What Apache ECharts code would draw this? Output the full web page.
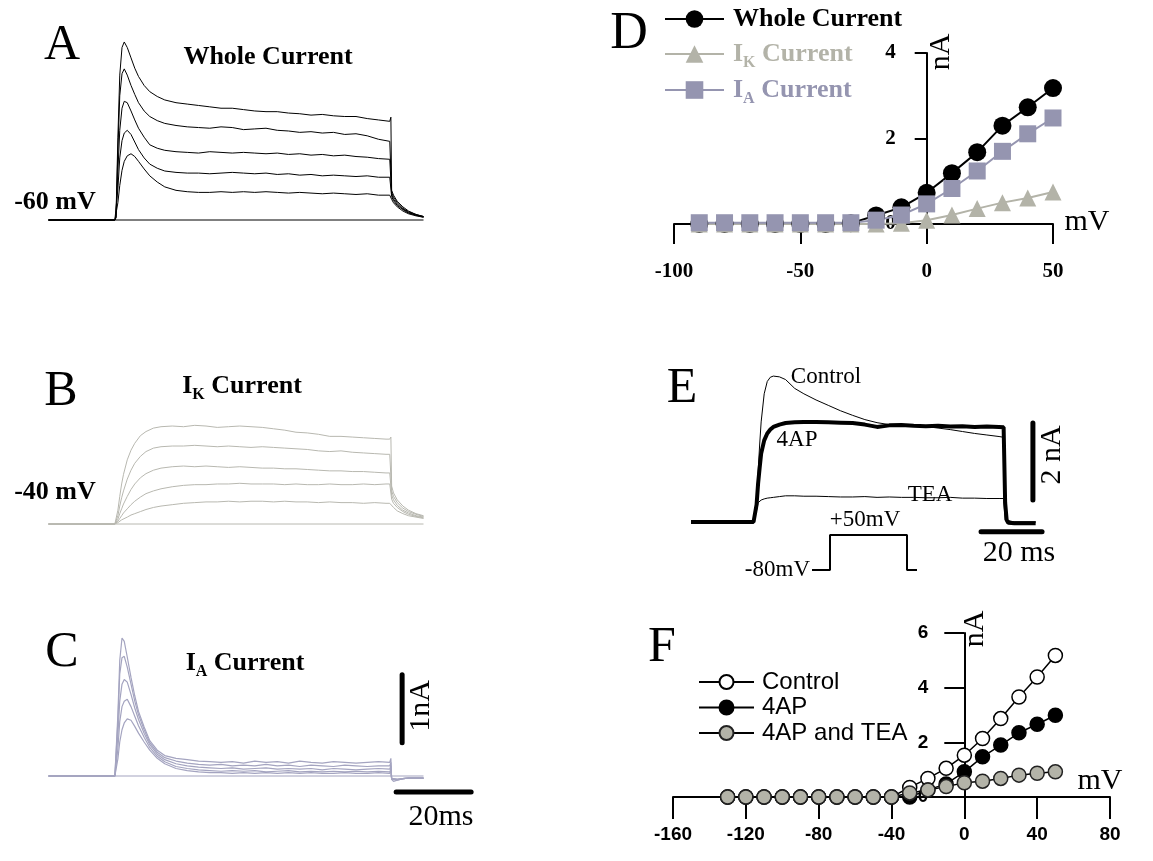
<!DOCTYPE html>
<html>
<head>
<meta charset="utf-8">
<script src="https://cdn.jsdelivr.net/npm/echarts/dist/echarts.min.js"></script>
<style>
html, body { margin: 0; padding: 0; background: #fff; }
#main { width: 1153px; height: 861px; }
</style>
</head>
<body>
<div id="main"></div>
<script>
// ---- panel A / C traces (time in ms from step onset, current in nA)
var timeAC = [-18, -0.3, 0, 0.5, 1, 1.6, 2.2, 3, 4, 5, 6, 7.5, 9, 11, 13, 16, 19, 22, 25, 28, 31, 34, 37, 40, 43, 46, 49, 52, 55, 58, 61, 64, 67, 70, 73, 73.3, 73.5, 74, 75, 76.5, 78, 80, 82];
var wholeA1 = [0, 0, 0.05, 1.2, 2.1, 2.5, 2.58, 2.5, 2.35, 2.2, 2.08, 1.95, 1.86, 1.79, 1.74, 1.70, 1.68, 1.66, 1.64, 1.62, 1.62, 1.60, 1.58, 1.57, 1.57, 1.55, 1.54, 1.52, 1.53, 1.51, 1.50, 1.50, 1.47, 1.45, 1.43, 1.49, 0.43, 0.36, 0.27, 0.19, 0.13, 0.08, 0.05];
var wholeA2 = [0, 0, 0.04, 1.0, 1.8, 2.12, 2.19, 2.1, 1.95, 1.82, 1.70, 1.58, 1.50, 1.44, 1.40, 1.37, 1.35, 1.34, 1.33, 1.35, 1.34, 1.31, 1.32, 1.33, 1.30, 1.29, 1.27, 1.28, 1.26, 1.27, 1.24, 1.25, 1.22, 1.17, 1.14, 1.14, 0.40, 0.33, 0.25, 0.17, 0.12, 0.08, 0.05];
var wholeA3 = [0, 0, 0.03, 0.7, 1.3, 1.62, 1.72, 1.70, 1.58, 1.45, 1.33, 1.20, 1.09, 1.04, 1.01, 0.99, 0.98, 0.97, 0.99, 0.98, 0.97, 0.98, 0.97, 0.96, 0.97, 0.95, 0.96, 0.94, 0.95, 0.93, 0.94, 0.92, 0.91, 0.89, 0.88, 0.88, 0.37, 0.30, 0.23, 0.16, 0.11, 0.07, 0.05];
var wholeA4 = [0, 0, 0.02, 0.45, 0.9, 1.15, 1.26, 1.30, 1.24, 1.13, 1.02, 0.90, 0.81, 0.75, 0.71, 0.69, 0.68, 0.68, 0.67, 0.68, 0.69, 0.68, 0.67, 0.68, 0.66, 0.67, 0.65, 0.66, 0.64, 0.65, 0.64, 0.63, 0.64, 0.62, 0.62, 0.62, 0.34, 0.28, 0.21, 0.15, 0.10, 0.07, 0.04];
var wholeA5 = [0, 0, 0.02, 0.25, 0.5, 0.72, 0.85, 0.93, 0.96, 0.92, 0.85, 0.74, 0.64, 0.55, 0.48, 0.43, 0.41, 0.40, 0.40, 0.41, 0.40, 0.41, 0.40, 0.41, 0.40, 0.39, 0.40, 0.39, 0.38, 0.39, 0.38, 0.37, 0.38, 0.36, 0.36, 0.36, 0.30, 0.25, 0.19, 0.13, 0.09, 0.06, 0.04];

var iaC1 = [0, 0, 0, 0.9, 1.7, 2.03, 1.98, 1.75, 1.45, 1.18, 0.95, 0.72, 0.52, 0.38, 0.30, 0.26, 0.24, 0.22, 0.21, 0.20, 0.21, 0.19, 0.22, 0.20, 0.21, 0.19, 0.22, 0.20, 0.19, 0.21, 0.20, 0.19, 0.20, 0.21, 0.20, 0.26, -0.05, -0.08, -0.06, -0.04, -0.03, -0.03, -0.03];
var iaC2 = [0, 0, 0, 0.8, 1.5, 1.74, 1.76, 1.6, 1.35, 1.10, 0.90, 0.68, 0.49, 0.35, 0.27, 0.22, 0.19, 0.17, 0.16, 0.17, 0.15, 0.16, 0.15, 0.17, 0.15, 0.16, 0.14, 0.16, 0.15, 0.14, 0.16, 0.15, 0.14, 0.15, 0.15, 0.20, -0.05, -0.07, -0.06, -0.04, -0.03, -0.03, -0.03];
var iaC3 = [0, 0, 0, 0.6, 1.1, 1.35, 1.42, 1.38, 1.20, 1.0, 0.83, 0.63, 0.46, 0.32, 0.24, 0.18, 0.15, 0.13, 0.12, 0.11, 0.12, 0.10, 0.11, 0.12, 0.10, 0.11, 0.10, 0.11, 0.09, 0.11, 0.10, 0.09, 0.10, 0.11, 0.10, 0.15, -0.04, -0.06, -0.05, -0.04, -0.03, -0.03, -0.03];
var iaC4 = [0, 0, 0, 0.4, 0.8, 1.02, 1.10, 1.13, 1.02, 0.88, 0.74, 0.57, 0.42, 0.29, 0.21, 0.14, 0.11, 0.09, 0.08, 0.07, 0.08, 0.07, 0.08, 0.06, 0.07, 0.08, 0.06, 0.07, 0.06, 0.07, 0.06, 0.07, 0.06, 0.07, 0.06, 0.10, -0.04, -0.05, -0.05, -0.04, -0.03, -0.03, -0.03];
var iaC5 = [0, 0, 0, 0.25, 0.5, 0.68, 0.78, 0.84, 0.82, 0.73, 0.63, 0.50, 0.38, 0.26, 0.18, 0.11, 0.08, 0.06, 0.05, 0.05, 0.04, 0.05, 0.04, 0.05, 0.04, 0.05, 0.04, 0.05, 0.04, 0.04, 0.05, 0.04, 0.04, 0.05, 0.04, 0.08, -0.04, -0.05, -0.05, -0.04, -0.03, -0.03, -0.03];

// flat trace at the holding step
var flatTime = [-18, 82];
var flatVals = [0, 0];

// ---- panel B traces
var timeB = [-18, -0.3, 0, 0.5, 1, 1.5, 2, 3, 4, 5, 6.5, 8, 10, 12, 15, 18, 21, 24, 27, 30, 33, 36, 39, 42, 45, 48, 51, 54, 57, 60, 63, 66, 69, 72, 73, 73.3, 73.5, 74, 75, 76.5, 78, 80, 82];
var ikB1 = [0, 0, 0, 0.2, 0.4, 0.58, 0.72, 0.93, 1.07, 1.17, 1.28, 1.34, 1.39, 1.41, 1.42, 1.41, 1.43, 1.42, 1.40, 1.41, 1.42, 1.41, 1.40, 1.38, 1.36, 1.33, 1.32, 1.30, 1.27, 1.27, 1.26, 1.25, 1.24, 1.23, 1.23, 1.26, 0.55, 0.45, 0.35, 0.26, 0.20, 0.15, 0.12];
var ikB2 = [0, 0, 0, 0.12, 0.26, 0.38, 0.48, 0.65, 0.78, 0.88, 0.98, 1.05, 1.10, 1.12, 1.13, 1.13, 1.14, 1.13, 1.12, 1.13, 1.12, 1.11, 1.12, 1.11, 1.10, 1.09, 1.08, 1.06, 1.05, 1.06, 1.04, 1.03, 1.02, 1.01, 1.01, 1.01, 0.48, 0.40, 0.31, 0.23, 0.18, 0.14, 0.11];
var ikB3 = [0, 0, 0, 0.07, 0.15, 0.22, 0.29, 0.40, 0.50, 0.58, 0.67, 0.73, 0.78, 0.81, 0.83, 0.84, 0.83, 0.84, 0.83, 0.82, 0.83, 0.82, 0.81, 0.81, 0.80, 0.80, 0.79, 0.78, 0.77, 0.77, 0.76, 0.76, 0.75, 0.74, 0.74, 0.74, 0.42, 0.35, 0.27, 0.20, 0.16, 0.12, 0.10];
var ikB4 = [0, 0, 0, 0.04, 0.08, 0.12, 0.16, 0.22, 0.28, 0.33, 0.39, 0.44, 0.48, 0.51, 0.54, 0.56, 0.57, 0.57, 0.58, 0.58, 0.59, 0.58, 0.58, 0.58, 0.57, 0.58, 0.57, 0.57, 0.58, 0.57, 0.57, 0.58, 0.57, 0.58, 0.58, 0.58, 0.36, 0.30, 0.24, 0.18, 0.14, 0.11, 0.09];
var ikB5 = [0, 0, 0, 0.02, 0.04, 0.06, 0.07, 0.10, 0.13, 0.15, 0.18, 0.21, 0.24, 0.26, 0.28, 0.30, 0.31, 0.32, 0.32, 0.33, 0.32, 0.33, 0.33, 0.32, 0.33, 0.32, 0.32, 0.31, 0.32, 0.31, 0.31, 0.30, 0.31, 0.30, 0.30, 0.30, 0.28, 0.24, 0.19, 0.15, 0.12, 0.10, 0.08];

// ---- panel E traces (+50 mV step)
var timeE = [-21, -0.5, 0, 0.5, 1, 1.5, 2, 3, 4, 5, 6, 8, 10, 13, 16, 20, 24, 28, 32, 36, 40, 44, 48, 52, 56, 60, 64, 68, 72, 76, 80, 81.5, 82, 82.5, 83, 85, 92];
var eControl = [0, 0, 0, 0.6, 1.3, 2.0, 2.6, 3.33, 3.65, 3.76, 3.79, 3.77, 3.70, 3.47, 3.33, 3.17, 3.03, 2.89, 2.77, 2.66, 2.58, 2.53, 2.52, 2.50, 2.48, 2.44, 2.40, 2.35, 2.30, 2.26, 2.22, 2.20, 0.3, 0.05, 0, 0, 0];
var e4AP = [0, 0, 0, 0.45, 1.0, 1.4, 1.78, 2.12, 2.30, 2.40, 2.47, 2.53, 2.57, 2.59, 2.60, 2.60, 2.59, 2.58, 2.57, 2.53, 2.47, 2.51, 2.52, 2.50, 2.49, 2.50, 2.48, 2.49, 2.47, 2.48, 2.47, 2.46, 0.5, 0.05, -0.02, -0.03, -0.03];
var eTEA = [0, 0, 0, 0.3, 0.5, 0.55, 0.57, 0.6, 0.62, 0.63, 0.64, 0.66, 0.68, 0.68, 0.67, 0.67, 0.66, 0.65, 0.65, 0.66, 0.64, 0.65, 0.64, 0.64, 0.63, 0.63, 0.64, 0.62, 0.62, 0.61, 0.61, 0.61, 0.05, 0, 0, 0, 0];
// voltage protocol sketch
var protoT = [0, 18, 18, 95, 95, 105];
var protoV = [-80, -80, 50, 50, -80, -80];

// scale bars [time, current]
var barC1nA = [[76.3, 0.49], [76.3, 1.49]];
var barC20ms = [[74.7, -0.235], [94.7, -0.235]];
var barE2nA = [[91.1, 0.57], [91.1, 2.57]];
var barE20ms = [[74.1, -0.25], [94.1, -0.25]];

// ---- panel D: I-V
var dVolt = [-90, -80, -70, -60, -50, -40, -30, -20, -10, 0, 10, 20, 30, 40, 50];
var dWhole = [0, 0, 0, 0, 0, 0, 0.02, 0.2, 0.39, 0.73, 1.19, 1.68, 2.30, 2.73, 3.18];
var dIK = [0, 0, 0, 0, 0, 0, 0, 0, 0.02, 0.09, 0.21, 0.36, 0.50, 0.61, 0.75];
var dIA = [0.03, 0.03, 0.03, 0.03, 0.03, 0.03, 0.03, 0.09, 0.21, 0.47, 0.83, 1.24, 1.70, 2.11, 2.48];

// ---- panel F: I-V
var fVolt = [-130, -120, -110, -100, -90, -80, -70, -60, -50, -40, -30, -20, -10, 0, 10, 20, 30, 40, 50];
var fControl = [0, 0, 0, 0, 0, 0, 0, 0, 0, 0, 0.35, 0.68, 1.05, 1.53, 2.14, 2.87, 3.66, 4.39, 5.18];
var f4AP = [0, 0, 0, 0, 0, 0, 0, 0, 0, 0, 0, 0.26, 0.48, 0.92, 1.47, 1.90, 2.35, 2.66, 2.99];
var fTEA = [0, 0, 0, 0, 0, 0, 0, 0, 0, 0, 0.15, 0.26, 0.38, 0.52, 0.58, 0.68, 0.80, 0.87, 0.92];

var SERIF = 'Liberation Serif';
var SANS = 'Liberation Sans';
var GRAY = '#b3b3a8';
var LAV = '#9595b0';

function pairs(t, v) {
	return t.map(function (x, i) { return [x, v[i]]; });
}

function trace(g, t, v, color, width) {
	return {
		type: 'line', xAxisIndex: g, yAxisIndex: g,
		data: pairs(t, v), symbol: 'none', silent: true,
		lineStyle: { color: color, width: width }
	};
}

function bar(g, pts) {
	return {
		type: 'line', xAxisIndex: g, yAxisIndex: g, data: pts,
		symbol: 'none', silent: true,
		lineStyle: { color: '#000', width: 5, cap: 'round' }
	};
}

function hiddenAxis(g, min, max) {
	return { type: 'value', gridIndex: g, min: min, max: max, show: false };
}

function label(x, y, text, size, opts) {
	opts = opts || {};
	return {
		type: 'text', x: x, y: y, rotation: opts.rot || 0, silent: true,
		style: {
			text: text, fontSize: size, fontFamily: opts.family || SERIF,
			fontWeight: opts.bold ? 'bold' : 'normal', fill: opts.color || '#000',
			align: opts.align || 'center', verticalAlign: 'middle', rich: opts.rich
		}
	};
}

var subRich = {
	w: { fontFamily: SERIF, fontWeight: 'bold', fontSize: 26, lineHeight: 34, verticalAlign: 'middle' },
	s: { fontFamily: SERIF, fontWeight: 'bold', fontSize: 16, lineHeight: 16, verticalAlign: 'bottom' }
};

// one legend per row in panel D so each row sits where it should
function legendD(name, color, top) {
	return {
		left: 659, top: top, itemWidth: 59, itemHeight: 22, selectedMode: false,
		data: [{ name: name, textStyle: { color: color } }],
		formatter: function (n) {
			if (n === 'Whole Current') return '{w|Whole Current}';
			return '{w|I}{s|' + n.charAt(1) + '}{w| Current}';
		},
		textStyle: { padding: [0, 0, 0, 4], rich: subRich }
	};
}

var chart = echarts.init(document.getElementById('main'));

var option = {
	animation: false,
	backgroundColor: '#fff',
	grid: [
		{ left: 48.5, top: 26.8, width: 375, height: 207 },
		{ left: 48.5, top: 330.8, width: 375, height: 207 },
		{ left: 48.5, top: 592.4, width: 435, height: 204 },
		{ left: 674, top: 53, width: 379, height: 171 },
		{ left: 691, top: 368, width: 356.85, height: 192.5 },
		{ left: 812, top: 535, width: 105, height: 35 },
		{ left: 673, top: 633, width: 437, height: 164 }
	],
	xAxis: [
		hiddenAxis(0, -18, 82),
		hiddenAxis(1, -18, 82),
		hiddenAxis(2, -18, 98),
		{
			type: 'value', gridIndex: 3, min: -100, max: 50, interval: 50,
			axisLine: { onZero: false, lineStyle: { color: '#000', width: 2 } },
			axisTick: { length: 20, lineStyle: { color: '#000', width: 2 } },
			axisLabel: { margin: 37, color: '#000', fontFamily: SERIF, fontWeight: 'bold', fontSize: 21 },
			splitLine: { show: false }
		},
		hiddenAxis(4, -21, 96),
		hiddenAxis(5, 0, 105),
		{
			type: 'value', gridIndex: 6, min: -160, max: 80, interval: 40,
			axisLine: { onZero: false, lineStyle: { color: '#000', width: 2 } },
			axisTick: { length: 22, lineStyle: { color: '#000', width: 2 } },
			axisLabel: { margin: 28, color: '#000', fontFamily: SANS, fontWeight: 'bold', fontSize: 19 },
			splitLine: { show: false }
		}
	],
	yAxis: [
		hiddenAxis(0, -0.2, 2.8),
		hiddenAxis(1, -0.2, 2.8),
		hiddenAxis(2, -0.3, 2.7),
		{
			// sits on x = 0 mV, moved in from the grid's left edge
			type: 'value', gridIndex: 3, min: 0, max: 4, interval: 2, position: 'left', offset: -252.7,
			axisLine: { show: true, onZero: false, lineStyle: { color: '#000', width: 2 } },
			axisTick: { show: true, length: 12, lineStyle: { color: '#000', width: 2 } },
			axisLabel: { margin: 31, color: '#000', fontFamily: SERIF, fontWeight: 'bold', fontSize: 21 },
			splitLine: { show: false }
		},
		hiddenAxis(4, -1, 4),
		hiddenAxis(5, -80, 50),
		{
			type: 'value', gridIndex: 6, min: 0, max: 6, interval: 2, position: 'left', offset: -291.3,
			axisLine: { show: true, onZero: false, lineStyle: { color: '#000', width: 2 } },
			axisTick: { show: true, length: 20, lineStyle: { color: '#000', width: 2 } },
			axisLabel: { margin: 36, color: '#000', fontFamily: SANS, fontWeight: 'bold', fontSize: 19 },
			splitLine: { show: false }
		}
	],
	legend: [
		legendD('Whole Current', '#000', 1),
		legendD('IK Current', GRAY, 36),
		legendD('IA Current', LAV, 72),
		{
			left: 693, top: 665, orient: 'vertical', itemWidth: 55, itemHeight: 17.5, itemGap: 1.5,
			selectedMode: false,
			data: ['Control', '4AP', '4AP and TEA'],
			textStyle: { color: '#000', fontFamily: SANS, fontSize: 24, lineHeight: 24, padding: [0, 0, 0, 3] }
		}
	],
	series: [
		trace(0, flatTime, flatVals, '#000', 1),
		trace(0, timeAC, wholeA5, '#000', 1),
		trace(0, timeAC, wholeA4, '#000', 1),
		trace(0, timeAC, wholeA3, '#000', 1),
		trace(0, timeAC, wholeA2, '#000', 1),
		trace(0, timeAC, wholeA1, '#000', 1),

		trace(1, flatTime, flatVals, '#b8b8b0', 1),
		trace(1, timeB, ikB5, '#b8b8b0', 1),
		trace(1, timeB, ikB4, '#b8b8b0', 1),
		trace(1, timeB, ikB3, '#b8b8b0', 1),
		trace(1, timeB, ikB2, '#b8b8b0', 1),
		trace(1, timeB, ikB1, '#b8b8b0', 1),

		trace(2, flatTime, flatVals, '#a4a4c0', 1.2),
		trace(2, timeAC, iaC5, '#a4a4c0', 1.2),
		trace(2, timeAC, iaC4, '#a4a4c0', 1.2),
		trace(2, timeAC, iaC3, '#a4a4c0', 1.2),
		trace(2, timeAC, iaC2, '#a4a4c0', 1.2),
		trace(2, timeAC, iaC1, '#a4a4c0', 1.2),
		bar(2, barC1nA),
		bar(2, barC20ms),

		{
			name: 'Whole Current', type: 'line', xAxisIndex: 3, yAxisIndex: 3,
			data: pairs(dVolt, dWhole), symbol: 'circle', symbolSize: 18,
			itemStyle: { color: '#000' }, lineStyle: { color: '#000', width: 2 }
		},
		{
			name: 'IK Current', type: 'line', xAxisIndex: 3, yAxisIndex: 3,
			data: pairs(dVolt, dIK), symbol: 'triangle', symbolSize: 17,
			itemStyle: { color: GRAY }, lineStyle: { color: GRAY, width: 2 }
		},
		{
			name: 'IA Current', type: 'line', xAxisIndex: 3, yAxisIndex: 3,
			data: pairs(dVolt, dIA), symbol: 'rect', symbolSize: 17,
			itemStyle: { color: LAV }, lineStyle: { color: LAV, width: 2 }
		},

		trace(4, timeE, eControl, '#000', 1),
		trace(4, timeE, eTEA, '#000', 1),
		trace(4, timeE, e4AP, '#000', 4),
		trace(5, protoT, protoV, '#000', 2),
		bar(4, barE2nA),
		bar(4, barE20ms),

		{
			name: 'Control', type: 'line', xAxisIndex: 6, yAxisIndex: 6,
			data: pairs(fVolt, fControl), symbol: 'circle', symbolSize: 14,
			itemStyle: { color: '#fff', borderColor: '#000', borderWidth: 1.5 },
			lineStyle: { color: '#000', width: 1.5 }
		},
		{
			name: '4AP', type: 'line', xAxisIndex: 6, yAxisIndex: 6,
			data: pairs(fVolt, f4AP), symbol: 'circle', symbolSize: 14,
			itemStyle: { color: '#000', borderColor: '#000', borderWidth: 1.5 },
			lineStyle: { color: '#000', width: 1.5 }
		},
		{
			name: '4AP and TEA', type: 'line', xAxisIndex: 6, yAxisIndex: 6,
			data: pairs(fVolt, fTEA), symbol: 'circle', symbolSize: 14,
			itemStyle: { color: GRAY, borderColor: '#222', borderWidth: 1.5 },
			lineStyle: { color: '#000', width: 1.5 }
		}
	],
	graphic: [
		label(62, 46, 'A', 50),
		label(268, 57, 'Whole Current', 26, { bold: true }),
		label(55, 202, '-60 mV', 26, { bold: true }),
		label(61, 392, 'B', 50),
		label(242, 386, '{w|I}{s|K}{w| Current}', 26, { rich: subRich }),
		label(55, 492, '-40 mV', 26, { bold: true }),
		label(62, 653, 'C', 50),
		label(245, 663, '{w|I}{s|A}{w| Current}', 26, { rich: subRich }),
		label(421, 706, '1nA', 30, { rot: Math.PI / 2 }),
		label(441, 817, '20ms', 30),
		label(629, 34, 'D', 52),
		label(941, 52, 'nA', 30, { rot: Math.PI / 2 }),
		label(1087, 222, 'mV', 30),
		label(682, 389, 'E', 50),
		label(826, 377, 'Control', 23),
		label(797, 440, '4AP', 23),
		label(930, 495, 'TEA', 23),
		label(865, 520, '+50mV', 23),
		label(810, 570, '-80mV', 23, { align: 'right' }),
		label(1019, 553, '20 ms', 30),
		label(1052, 455, '2 nA', 30, { rot: Math.PI / 2 }),
		label(662, 648, 'F', 50),
		label(975, 629, 'nA', 30, { rot: Math.PI / 2 }),
		label(1100, 781, 'mV', 30)
	]
};

chart.setOption(option);
</script>
</body>
</html>
